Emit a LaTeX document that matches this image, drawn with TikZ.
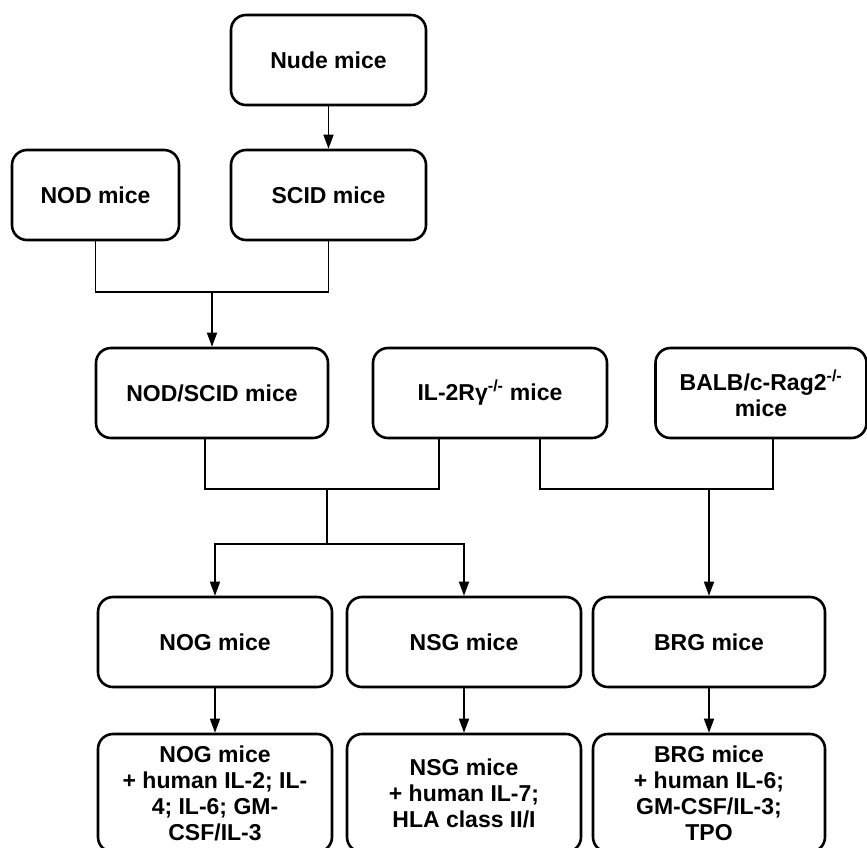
\documentclass[tikz,border=0pt]{standalone}
\usepackage{fontspec}
\setmainfont{Liberation Sans}
\usetikzlibrary{arrows.meta}
\usetikzlibrary{calc}

\begin{document}
\begin{tikzpicture}[x=1pt,y=-1pt,>/.tip={Triangle[width=10pt,length=14pt]},
	box/.style={draw,line width=2.6pt,rounded corners=15pt,align=center,
		font=\fontsize{23}{26}\selectfont\bfseries},
	link/.style={line width=1.6pt}]
	\useasboundingbox (0,0) rectangle (867,847);
	\clip (0,0) rectangle (867,847);
	\draw (328.5,60) node (Nude) [box,minimum width=195pt,minimum height=90pt] {Nude mice};
	\draw (328.5,195) node (SCID) [box,minimum width=195pt,minimum height=90pt] {SCID mice};
	\draw (95.5,195) node (NOD) [box,minimum width=167pt,minimum height=90pt] {NOD mice};
	\draw (212,393) node (NS) [box,minimum width=232pt,minimum height=90pt] {NOD/SCID mice};
	\draw (490,393) node (IL2R) [box,minimum width=234pt,minimum height=90pt] {IL-2Rγ\textsuperscript{-/-} mice};
	\draw (761,393) node (BALB) [box,minimum width=211pt,minimum height=90pt] {BALB/c-Rag2\textsuperscript{-/-}\\mice};
	\draw (215,642) node (NOG) [box,minimum width=234pt,minimum height=90pt] {NOG mice};
	\draw (464,642) node (NSG) [box,minimum width=234pt,minimum height=90pt] {NSG mice};
	\draw (709,642) node (BRG) [box,minimum width=232pt,minimum height=90pt] {BRG mice};
	\draw (215,793) node (NOGh) [box,minimum width=234pt,minimum height=118pt] {NOG mice\\+ human IL-2; IL-\\4; IL-6; GM-\\CSF/IL-3};
	\draw (464,793) node (NSGh) [box,minimum width=234pt,minimum height=118pt] {NSG mice\\+ human IL-7;\\HLA class II/I};
	\draw (709,793) node (BRGh) [box,minimum width=232pt,minimum height=118pt] {BRG mice\\+ human IL-6;\\GM-CSF/IL-3;\\TPO};
	
	\coordinate (j1) at (212,292);
	\coordinate (j2) at (327,489);
	\coordinate (j3) at (327,544);
	\coordinate (j4) at (709,489);
	
	\draw[link,->] (Nude) -- (SCID);
	\draw[link] (NOD.south) |- (j1) -| (SCID.south);
	\draw[link,->] (j1) -- (NS);
	\draw[link] ([xshift=-7pt]NS.south) |- (j2) -| ([xshift=-51pt]IL2R.south);
	\draw[link] (j2) -- (j3);
	\draw[link,->] (j3) -| (NOG.north);
	\draw[link,->] (j3) -| (NSG.north);
	\draw[link] ([xshift=50pt]IL2R.south) |- (j4) -| ([xshift=12pt]BALB.south);
	\draw[link,->] (j4) -- (BRG);
	\draw[link,->] (NOG) -- (NOGh);
	\draw[link,->] (NSG) -- (NSGh);
	\draw[link,->] (BRG) -- (BRGh);
\end{tikzpicture}
\end{document}
